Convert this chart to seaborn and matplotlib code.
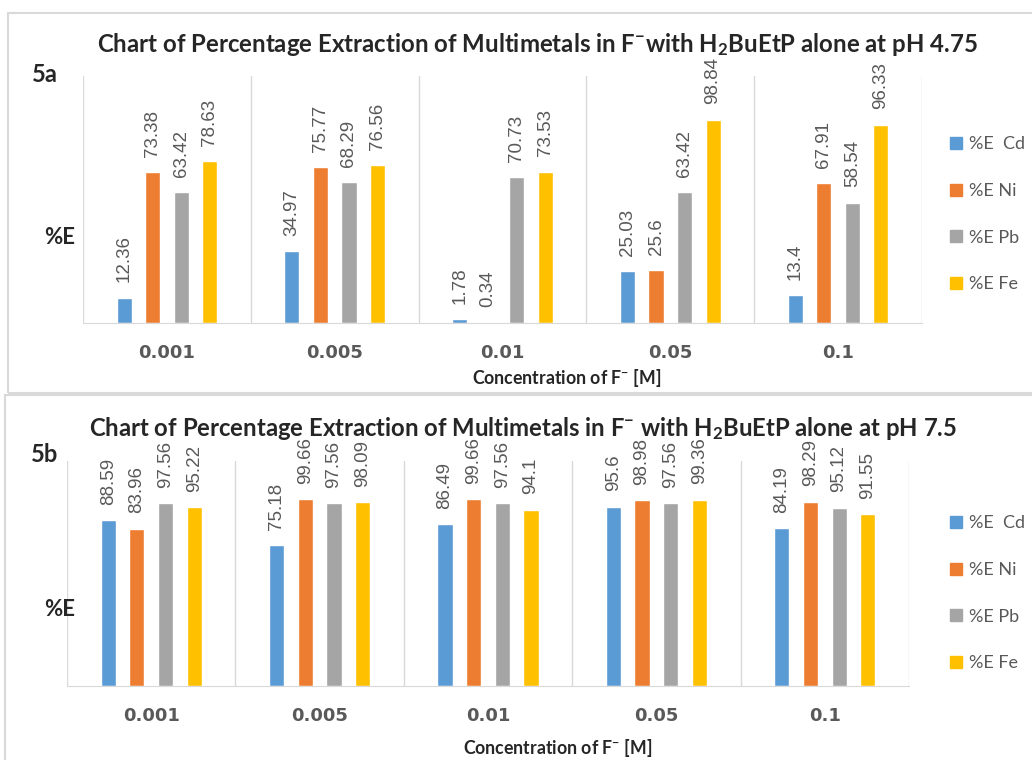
import numpy as np
import pandas as pd
import matplotlib
matplotlib.use('Agg')
import matplotlib.pyplot as plt
from matplotlib.lines import Line2D
from matplotlib.patches import Rectangle
import seaborn as sns

sns.set_style('white')
plt.rcParams['font.family'] = ['Lato', 'DejaVu Sans']
plt.rcParams['mathtext.fontset'] = 'custom'
plt.rcParams['mathtext.rm'] = 'Lato:bold'
plt.rcParams['mathtext.it'] = 'Lato:bold'
plt.rcParams['mathtext.bf'] = 'Lato:bold'

# data
conc = ['0.001', '0.005', '0.01', '0.05', '0.1']
metals = ['%E  Cd', '%E Ni', '%E Pb', '%E Fe']
colors = ['#5b9bd5', '#ed7d31', '#a5a5a5', '#ffc000']

cd_a = [12.36, 34.97, 1.78, 25.03, 13.4]
ni_a = [73.38, 75.77, 0.34, 25.6, 67.91]
pb_a = [63.42, 68.29, 70.73, 63.42, 58.54]
fe_a = [78.63, 76.56, 73.53, 98.84, 96.33]

cd_b = [88.59, 75.18, 86.49, 95.6, 84.19]
ni_b = [83.96, 99.66, 99.66, 98.98, 98.29]
pb_b = [97.56, 97.56, 97.56, 97.56, 95.12]
fe_b = [95.22, 98.09, 94.1, 99.36, 91.55]

title_a = r'Chart of Percentage Extraction of Multimetals in F$^{-}$with H$_{2}$BuEtP alone at pH 4.75'
title_b = r'Chart of Percentage Extraction of Multimetals in F$^{-}$ with H$_{2}$BuEtP alone at pH 7.5'
xtitle = r'Concentration of F$^{-}$ [M]'

W, H = 1032, 760
fig = plt.figure(figsize=(W / 100, H / 100), dpi=100)
renderer = fig.canvas.get_renderer()


def fx(px):
    return px / W


def fy(py):
    return 1 - py / H


def fit_text(t, width):
    # scale the font so the text is as wide as in the reference
    for _ in range(3):
        w = t.get_window_extent(renderer).width
        t.set_fontsize(t.get_fontsize() * width / w)


# panel boxes
fig.patches.append(Rectangle((fx(8), fy(393)), fx(1100), 380 / H, transform=fig.transFigure,
                             fill=False, edgecolor='#d9d9d9', lw=1.5))
fig.patches.append(Rectangle((fx(5), fy(790)), fx(1100), 395 / H, transform=fig.transFigure,
                             fill=False, edgecolor='#d9d9d9', lw=1.5))


def panel(rect, series, title, ty, tx, tw, label, ly, ey, xty, xtx, leg_y):
    df = pd.DataFrame({
        'conc': conc * 4,
        'metal': np.repeat(metals, len(conc)),
        'val': np.concatenate(series),
    })
    ax = fig.add_axes(rect)
    sns.barplot(data=df, x='conc', y='val', hue='metal', palette=colors,
                width=0.68, gap=0.47, ax=ax, legend=False, saturation=1)
    for cont, vals in zip(ax.containers, series):
        ax.bar_label(cont, labels=[f'{v:g}' for v in vals], rotation=90,
                     padding=11, color='#595959', fontsize=13.5,
                     family='Liberation Sans')
    ax.set_xlim(-0.5, 4.5)
    ax.set_ylim(0, 120)
    for x in np.arange(-0.5, 5, 1):
        ax.axvline(x, color='#d9d9d9', lw=1, zorder=0)
    for s in ['top', 'right', 'left']:
        ax.spines[s].set_visible(False)
    ax.spines['bottom'].set_color('#d9d9d9')
    ax.set_yticks([])
    ax.set_xlabel('')
    ax.set_ylabel('')
    ax.tick_params(axis='x', length=0, pad=15)
    for t in ax.get_xticklabels():
        t.set_family('DejaVu Sans')
        t.set_fontweight('bold')
        t.set_fontsize(13)
        t.set_color('#595959')
    tt = fig.text(fx(tx), fy(ty), title, ha='center', va='center', fontsize=17,
                  fontweight='bold')
    fit_text(tt, tw)
    fig.text(fx(45), fy(ly), label, ha='center', va='center', fontsize=17,
             fontweight='bold')
    fig.text(fx(60), fy(ey), '%E', ha='center', va='center', fontsize=16,
             fontweight='bold')
    xt = fig.text(fx(xtx), fy(xty), xtitle, ha='center', va='center', fontsize=15,
                  fontweight='bold')
    fit_text(xt, 190)
    handles = [Line2D([], [], marker='s', ls='', color=c, markersize=8) for c in colors]
    leg = ax.legend(handles, metals, loc='upper left', frameon=False,
                    bbox_to_anchor=(fx(933), fy(leg_y)), bbox_transform=fig.transFigure,
                    fontsize=13, labelspacing=1.7, handlelength=0.8, handletextpad=0.3)
    for t in leg.get_texts():
        t.set_color('#595959')
    return ax


panel([fx(83), fy(323), fx(839), 247 / H], [cd_a, ni_a, pb_a, fe_a], title_a,
      45, 537, 881, '5a', 75, 237, 378, 567, 120)
panel([fx(67), fy(686), fx(842), 225 / H], [cd_b, ni_b, pb_b, fe_b], title_b,
      428, 523, 870, '5b', 455, 609, 748, 558, 499)

fig.savefig('out.png', dpi=100)
